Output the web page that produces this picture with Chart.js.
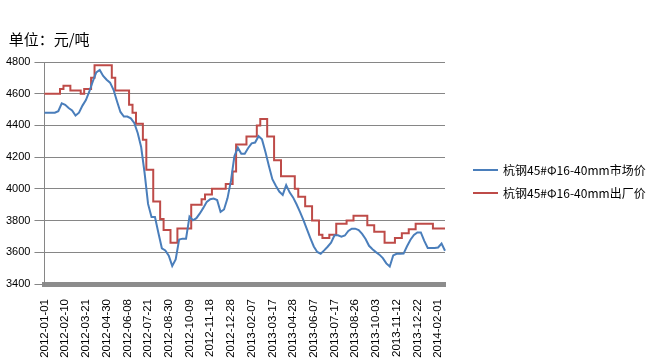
<!DOCTYPE html>
<html>
<head>
<meta charset="utf-8">
<script src="https://cdn.jsdelivr.net/npm/chart.js@4.4.1/dist/chart.umd.min.js"></script>
<style>
  body { margin: 0; background: #fff; }
  #wrap { width: 648px; height: 358px; }
</style>
</head>
<body>
<div id="wrap"><canvas id="steelChart"></canvas></div>
<script>
// tick labels shown on the x axis (one every 6 points)
const tickLabels = [
  "2012-01-01", "2012-02-10", "2012-03-21", "2012-04-30", "2012-06-08",
  "2012-07-21", "2012-08-30", "2012-10-09", "2012-11-18", "2012-12-28",
  "2013-02-07", "2013-03-17", "2013-04-28", "2013-06-07", "2013-07-17",
  "2013-08-26", "2013-10-03", "2013-11-12", "2013-12-22", "2014-02-01"
];
const STEP = 6;

// market price (blue)
const marketPrice = [
  4480, 4480, 4480, 4480, 4490, 4540, 4530, 4510, 4495, 4462,
  4480, 4525, 4560, 4614, 4678, 4735, 4750, 4712, 4688, 4670,
  4625, 4553, 4485, 4456, 4456, 4445, 4416, 4352, 4264, 4100,
  3905, 3823, 3823, 3722, 3625, 3612, 3578, 3514, 3555, 3680,
  3686, 3686, 3825, 3802, 3815, 3845, 3880, 3918, 3935, 3939,
  3930, 3855, 3870, 3940, 4050, 4205, 4260, 4222, 4222, 4258,
  4287, 4292, 4332, 4312, 4233, 4144, 4061, 4020, 3983, 3962,
  4024, 3978, 3946, 3903, 3855, 3803, 3746, 3690, 3637, 3602,
  3591, 3612, 3635, 3660, 3707, 3707, 3698, 3706, 3735, 3749,
  3749, 3740, 3716, 3684, 3641, 3619, 3601, 3585, 3563, 3530,
  3510, 3580, 3590, 3590, 3592, 3638, 3679, 3709, 3725, 3725,
  3672, 3627, 3627, 3627, 3630, 3655, 3610
];

// factory price (red)
const factoryPrice = [
  4600, 4600, 4600, 4600, 4600, 4630, 4650, 4650, 4620, 4620,
  4620, 4600, 4630, 4630, 4700, 4780, 4780, 4780, 4780, 4780,
  4700, 4620, 4620, 4620, 4620, 4530, 4480, 4410, 4410, 4310,
  4120, 4120, 3920, 3920, 3810, 3740, 3740, 3660, 3660, 3750,
  3750, 3750, 3750, 3900, 3900, 3900, 3935, 3965, 3965, 4000,
  4000, 4000, 4000, 4030, 4030, 4110, 4280, 4280, 4280, 4330,
  4330, 4330, 4400, 4440, 4440, 4330, 4330, 4180, 4180, 4080,
  4080, 4080, 4080, 4000, 3950, 3950, 3890, 3890, 3800, 3800,
  3710, 3690, 3690, 3710, 3710, 3780, 3780, 3780, 3800, 3800,
  3830, 3830, 3830, 3830, 3770, 3770, 3730, 3730, 3730, 3660,
  3660, 3660, 3690, 3690, 3720, 3720, 3745, 3745, 3780, 3780,
  3780, 3780, 3780, 3750, 3750, 3750, 3750
];

// dates between the tick labels
const DAY = 864e5;
const categories = [];
tickLabels.forEach((t, k) => {
  const a = Date.parse(t);
  const last = k === tickLabels.length - 1;
  const b = last ? a + 40 * DAY : Date.parse(tickLabels[k + 1]);
  const n = last ? marketPrice.length - categories.length : STEP;
  for (let j = 0; j < n; j++) {
    const d = a + Math.round((b - a) / DAY * j / STEP) * DAY;
    categories.push(new Date(d).toISOString().slice(0, 10));
  }
});

const CJK = '"Noto Sans CJK SC", "Noto Sans", sans-serif';
const LAT = '"Liberation Sans", Arial, sans-serif';
const GRID = "#868686";

// legend drawn to the right of the plot
const sideLegend = {
  id: "sideLegend",
  afterDraw(chart) {
    const { ctx, chartArea } = chart;
    ctx.save();
    ctx.font = "12px " + CJK;
    ctx.textBaseline = "middle";
    chart.data.datasets.forEach((ds, i) => {
      const y = chartArea.top + 108 + i * 23;
      const x = chartArea.right + 28;
      ctx.strokeStyle = ds.borderColor;
      ctx.lineWidth = 2;
      ctx.beginPath();
      ctx.moveTo(x, y);
      ctx.lineTo(x + 25, y);
      ctx.stroke();
      ctx.fillStyle = "#000";
      ctx.fillText(ds.label, x + 30, y);
    });
    ctx.restore();
  }
};

new Chart(document.getElementById("steelChart"), {
  type: "line",
  data: {
    labels: categories,
    datasets: [
      {
        label: "杭钢45#Φ16-40mm市场价",
        data: marketPrice,
        borderColor: "#4a7ebb",
        borderWidth: 2,
        pointRadius: 0,
        tension: 0
      },
      {
        label: "杭钢45#Φ16-40mm出厂价",
        data: factoryPrice,
        borderColor: "#be4b48",
        borderWidth: 2,
        pointRadius: 0,
        stepped: "middle"
      }
    ]
  },
  options: {
    responsive: true,
    maintainAspectRatio: false,
    animation: false,
    layout: { padding: { left: 2, right: 203, top: 0, bottom: 0 } },
    plugins: {
      legend: { display: false },
      tooltip: { enabled: false },
      title: {
        display: true,
        text: "  单位：元/吨",
        align: "start",
        color: "#000",
        font: { family: CJK, size: 15, weight: "normal" },
        padding: { top: 30, bottom: 14 }
      }
    },
    scales: {
      x: {
        grid: { display: false },
        border: { display: true, color: "#8c8c8c", width: 5 },
        afterFit: (scale) => { scale.height = 74; },
        ticks: {
          autoSkip: false,
          maxRotation: 90,
          minRotation: 90,
          padding: 7,
          color: "#000",
          font: { family: LAT, size: 11.5 },
          callback: (v, i) => (i % STEP === 0 ? categories[i] : "")
        }
      },
      y: {
        min: 3400,
        max: 4800,
        grid: { color: GRID, tickLength: 10 },
        border: { color: GRID },
        ticks: {
          stepSize: 200,
          padding: 4,
          color: "#000",
          font: { family: LAT, size: 11 },
          callback: (v) => String(v)
        }
      }
    }
  },
  plugins: [sideLegend]
});
</script>
</body>
</html>
